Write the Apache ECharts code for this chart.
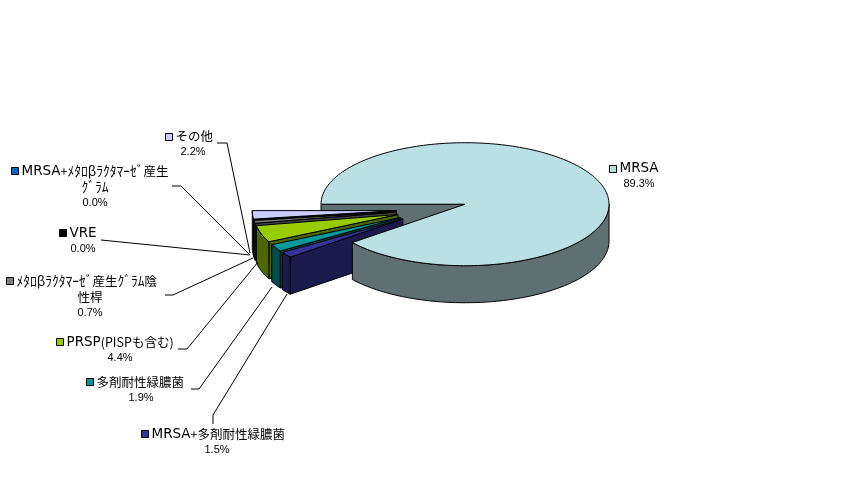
<!DOCTYPE html>
<html><head><meta charset="utf-8">
<style>html,body{margin:0;padding:0;background:#fff}#c{width:864px;height:493px}</style>
<script src="https://cdn.jsdelivr.net/npm/echarts@6/dist/echarts.min.js"></script>
</head><body><div id="c"></div>
<script>
// Data (drawing order of the pie, clockwise from the left)
var categories = ['MRSA','MRSA+多剤耐性緑膿菌','多剤耐性緑膿菌','PRSP(PISPも含む)','ﾒﾀﾛβﾗｸﾀﾏｰｾﾞ産生ｸﾞﾗﾑ陰性桿','VRE','MRSA+ﾒﾀﾛβﾗｸﾀﾏｰｾﾞ産生ｸﾞﾗﾑ','その他'];
var values = [89.3,1.5,1.9,4.4,0.7,0.0,0.0,2.2];
var topColors = ['#BBE0E3','#333399','#009999','#99CC00','#808080','#000000','#0066CC','#CCCCFF'];
var sideColors = ['#5E7072','#1A1A4D','#004D4D','#4D6600','#404040','#000000','#003366','#666680'];
var labelLines = [
  ['MRSA'],['MRSA+多剤耐性緑膿菌'],['多剤耐性緑膿菌'],['PRSP(PISPも含む)'],
  ['ﾒﾀﾛβﾗｸﾀﾏｰｾﾞ産生ｸﾞﾗﾑ陰','性桿'],['VRE'],['MRSA+ﾒﾀﾛβﾗｸﾀﾏｰｾﾞ産生','ｸﾞﾗﾑ'],['その他']
];

// Layout
var pie = {cx:431.6, cy:209.5, rx:144, ry:61.5, depth:37, ex:35.4, ey:16, start:180};
var keyPos = [[609,165],[141,430],[86,378],[56,338],[6,277],[59,229],[11,167],[165,133]];
var labelX = [639,217,141,120,90,83,95,193];      // centre of the lines under the first
var labelY = [168,434,382,342,281,233,171,136];   // first line
var leaders = [
  null,
  [[213,424],[213,415],[287,294]],
  [[191,389],[199,389],[272,287]],
  [[178,349],[187,349],[258,262]],
  [[165,295],[173,295],[253,258]],
  [[101,240],[250,255]],
  [[172,186],[181,186],[250,255]],
  [[217,143],[227,143],[250,253]]
];

var RAD = Math.PI/180;
var slices = [], acc = pie.start;
values.forEach(function(v,i){
  var a0 = acc, a1 = acc + v*3.6; acc = a1;
  var mid = (a0+a1)/2;
  slices.push({a0:a0,a1:a1,
    x:pie.cx+pie.ex*Math.cos(mid*RAD), y:pie.cy+pie.ey*Math.sin(mid*RAD)});
});
function pt(s,a,dz){return [s.x+pie.rx*Math.cos(a*RAD), s.y+pie.ry*Math.sin(a*RAD)+(dz||0)];}
function arc(s,a0,a1,dz){
  var p=[], n=Math.max(1,Math.ceil((a1-a0)/1.5));
  for(var k=0;k<=n;k++) p.push(pt(s,a0+(a1-a0)*k/n,dz));
  return p;
}
function poly(points,fill){
  return {type:'polygon',shape:{points:points},style:{fill:fill,stroke:'#000',lineWidth:1,lineJoin:'bevel'}};
}
function startWall(i){
  var s=slices[i], r=pt(s,s.a0);
  return poly([[s.x,s.y],r,[r[0],r[1]+pie.depth],[s.x,s.y+pie.depth]],sideColors[i]);
}
function outerSide(i){
  var s=slices[i], lo=s.a0, hi=s.a1, out=[];
  // visible part of the rim: lower half of the ellipse
  [[0,180],[360,540]].forEach(function(r){
    var a=Math.max(lo,r[0]), b=Math.min(hi,r[1]);
    if(b>a){ out.push(poly(arc(s,a,b,0).concat(arc(s,a,b,pie.depth).reverse()),sideColors[i])); }
  });
  return out;
}
function topFace(i){
  var s=slices[i];
  return poly([[s.x,s.y]].concat(arc(s,s.a0,s.a1,0)),topColors[i]);
}
function sliceGroup(i){ return [startWall(i)].concat(outerSide(i),[topFace(i)]); }
var textRich = {
  w:{font:'13.5px "DejaVu Sans",sans-serif',fill:'#000'},
  c:{font:'12.5px "Noto Sans CJK JP",sans-serif',fill:'#000'},
  k:{font:'13.5px "Noto Sans CJK JP",sans-serif',fill:'#000'}
};
function richText(t){
  // the capitals of the leading abbreviation and half-width kana are set wider, as in the reference
  var m=t.match(/^(MRSA|PRSP|VRE)/), head='';
  if(m){ head='{w|'+m[0]+'}'; t=t.slice(m[0].length); }
  var parts=t.match(/[\uFF61-\uFF9F\u03B2]+|[^\uFF61-\uFF9F\u03B2]+/g)||[];
  return head+parts.map(function(p){
    return (/^[\uFF61-\uFF9F\u03B2]/.test(p)?'{k|':'{c|')+p+'}';
  }).join('');
}
function labelGroup(i){
  var c=[], names=labelLines[i];
  if(leaders[i]) c.push({type:'polyline',shape:{points:leaders[i]},style:{fill:null,stroke:'#000',lineWidth:1}});
  c.push({type:'rect',shape:{x:keyPos[i][0]+.5,y:keyPos[i][1]+.5,width:7,height:7},style:{fill:topColors[i],stroke:'#000',lineWidth:1}});
  names.forEach(function(t,k){
    c.push({type:'text',style:{text:richText(t),rich:textRich,
      x:k===0?keyPos[i][0]+10.5:labelX[i],y:labelY[i]+k*16,
      align:k===0?'left':'center',verticalAlign:'middle'}});
  });
  c.push({type:'text',style:{text:values[i].toFixed(1)+'%',x:labelX[i],y:labelY[i]+names.length*16,
    align:'center',verticalAlign:'middle',fill:'#000',font:'11px "Liberation Sans",sans-serif'}});
  return c;
}
// paint order: MRSA's cut wall, exploded slices back to front, MRSA body, labels
var paint = [];
paint.push({kind:'wall',i:0});
for(var j=values.length-1;j>=1;j--) paint.push({kind:'slice',i:j});
paint.push({kind:'body',i:0});
for(var m=0;m<values.length;m++) paint.push({kind:'label',i:m});

var chart = echarts.init(document.getElementById('c'),null,{renderer:'canvas'});
chart.setOption({
  animation:false,
  backgroundColor:'#fff',
  series:[{
    type:'custom',
    coordinateSystem:'none',
    silent:true,
    data:paint.map(function(p){return values[p.i];}),
    renderItem:function(params){
      var p=paint[params.dataIndex], ch;
      if(p.kind==='wall') ch=[startWall(p.i)];
      else if(p.kind==='slice') ch=sliceGroup(p.i);
      else if(p.kind==='body') ch=outerSide(p.i).concat([topFace(p.i)]);
      else ch=labelGroup(p.i);
      return {type:'group',children:ch};
    }
  }]
});
</script></body></html>
